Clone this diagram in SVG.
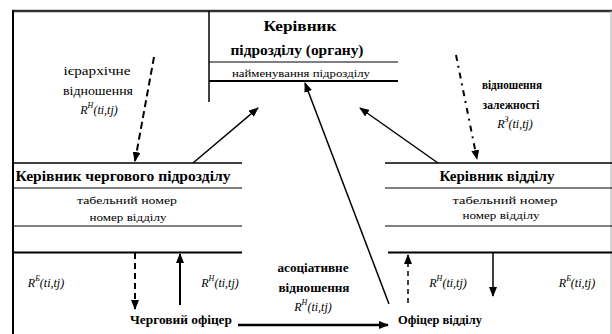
<svg xmlns="http://www.w3.org/2000/svg" width="612" height="334" viewBox="0 0 612 334" font-family="Liberation Serif, DejaVu Serif, serif">
<style>
text{fill:#000;text-anchor:middle}
.t{font-size:14px;font-weight:bold}
.s{font-size:11px}
.l{font-size:11.5px}
.b{font-size:11.5px;font-weight:bold}
.f{font-size:12px;font-style:italic}
.sup{font-size:8px}
.ln{stroke:#000;fill:none}
.a{stroke:#000;fill:none;marker-end:url(#ah)}
</style>
<defs>
<marker id="ah" markerUnits="userSpaceOnUse" markerWidth="10" markerHeight="8" refX="9" refY="4" orient="auto">
<path d="M0,0 L10,4 L0,8 z" fill="#000"/>
</marker>
</defs>
<g id="frame">
<line x1="12" y1="11" x2="612" y2="11" stroke="#333" stroke-width="2.5"/>
<line x1="13" y1="10" x2="13" y2="334" stroke="#000" stroke-width="2"/>
<line x1="611" y1="11" x2="611" y2="334" stroke="#aaa" stroke-width="1"/>
</g>
<g id="node-top">
<line class="ln" x1="209" y1="11" x2="209" y2="102" stroke-width="1.5"/>
<line class="ln" x1="209" y1="62" x2="398" y2="62" stroke-width="1"/>
<line class="ln" x1="209" y1="81" x2="398" y2="81" stroke-width="2"/>
<text class="t" x="300" y="31" textLength="73" lengthAdjust="spacingAndGlyphs">Керівник</text>
<text class="t" x="297" y="55" textLength="133" lengthAdjust="spacingAndGlyphs">підрозділу (органу)</text>
<text class="s" x="301" y="77" textLength="138" lengthAdjust="spacingAndGlyphs">найменування підрозділу</text>
</g>
<g id="node-left">
<line class="ln" x1="13" y1="163" x2="242" y2="163" stroke-width="1.5"/>
<line class="ln" x1="13" y1="188" x2="242" y2="188" stroke-width="1"/>
<line class="ln" x1="13" y1="226" x2="242" y2="226" stroke-width="1"/>
<line class="ln" x1="13" y1="252.5" x2="242" y2="252.5" stroke-width="2"/>
<text class="t" x="123" y="181" textLength="215" lengthAdjust="spacingAndGlyphs">Керівник чергового підрозділу</text>
<text class="s" x="127" y="204" textLength="100" lengthAdjust="spacingAndGlyphs">табельний номер</text>
<text class="s" x="128" y="221" textLength="77" lengthAdjust="spacingAndGlyphs">номер відділу</text>
</g>
<g id="node-right">
<line class="ln" x1="385" y1="163" x2="612" y2="163" stroke-width="1.5"/>
<line class="ln" x1="385" y1="188" x2="612" y2="188" stroke-width="1"/>
<line class="ln" x1="385" y1="226" x2="612" y2="226" stroke-width="1"/>
<line class="ln" x1="388" y1="252.5" x2="612" y2="252.5" stroke-width="2"/>
<text class="t" x="497" y="181" textLength="115" lengthAdjust="spacingAndGlyphs">Керівник відділу</text>
<text class="s" x="505" y="204" textLength="105" lengthAdjust="spacingAndGlyphs">табельний номер</text>
<text class="s" x="501" y="219" textLength="77" lengthAdjust="spacingAndGlyphs">номер відділу</text>
</g>
<g id="node-duty-officer">
<text class="b" x="181" y="324" textLength="102" lengthAdjust="spacingAndGlyphs">Черговий офіцер</text>
</g>
<g id="node-dept-officer">
<text class="b" x="440" y="324" textLength="84" lengthAdjust="spacingAndGlyphs">Офіцер відділу</text>
</g>
<g id="connectors">
<line class="a" x1="154" y1="57" x2="135" y2="161" stroke-width="2" stroke-dasharray="7 4"/>
<line class="a" x1="193" y1="163" x2="258" y2="108" stroke-width="1.5"/>
<line class="a" x1="438" y1="163" x2="360" y2="108" stroke-width="1.5"/>
<line class="a" x1="456" y1="55" x2="477" y2="159" stroke-width="2" stroke-dasharray="6 5 2 5"/>
<line class="a" x1="389" y1="304" x2="305" y2="83" stroke-width="1.5"/>
<line class="a" x1="135" y1="253" x2="135" y2="309" stroke-width="2" stroke-dasharray="6 4"/>
<line class="a" x1="180" y1="305" x2="180" y2="254" stroke-width="2"/>
<line class="a" x1="238" y1="325" x2="388" y2="325" stroke-width="2.5"/>
<line class="a" x1="408" y1="303" x2="408" y2="255" stroke-width="1.5" stroke-dasharray="5 4"/>
<line class="a" x1="493" y1="253" x2="493" y2="296" stroke-width="1.5"/>
</g>
<g id="labels">
<text class="l" x="97" y="75" textLength="67" lengthAdjust="spacingAndGlyphs">ієрархічне</text>
<text class="l" x="98" y="95" textLength="70" lengthAdjust="spacingAndGlyphs">відношення</text>
<text class="f" x="99" y="114">R<tspan class="sup" dy="-6">Н</tspan><tspan dy="6">(ti,tj)</tspan></text>
<text class="b" x="512" y="89" textLength="60" lengthAdjust="spacingAndGlyphs">відношення</text>
<text class="b" x="511" y="109" textLength="57" lengthAdjust="spacingAndGlyphs">залежності</text>
<text class="f" x="515" y="128">R<tspan class="sup" dy="-6">З</tspan><tspan dy="6">(ti,tj)</tspan></text>
<text class="b" x="313" y="272" textLength="71" lengthAdjust="spacingAndGlyphs">асоціативне</text>
<text class="b" x="314" y="292" textLength="71" lengthAdjust="spacingAndGlyphs">відношення</text>
<text class="f" x="313" y="311">R<tspan class="sup" dy="-6">Н</tspan><tspan dy="6">(ti,tj)</tspan></text>
<text class="f" x="46" y="287">R<tspan class="sup" dy="-6">Б</tspan><tspan dy="6">(ti,tj)</tspan></text>
<text class="f" x="220" y="287">R<tspan class="sup" dy="-6">Н</tspan><tspan dy="6">(ti,tj)</tspan></text>
<text class="f" x="448" y="287">R<tspan class="sup" dy="-6">Н</tspan><tspan dy="6">(ti,tj)</tspan></text>
<text class="f" x="577" y="287">R<tspan class="sup" dy="-6">Б</tspan><tspan dy="6">(ti,tj)</tspan></text>
</g>
</svg>
